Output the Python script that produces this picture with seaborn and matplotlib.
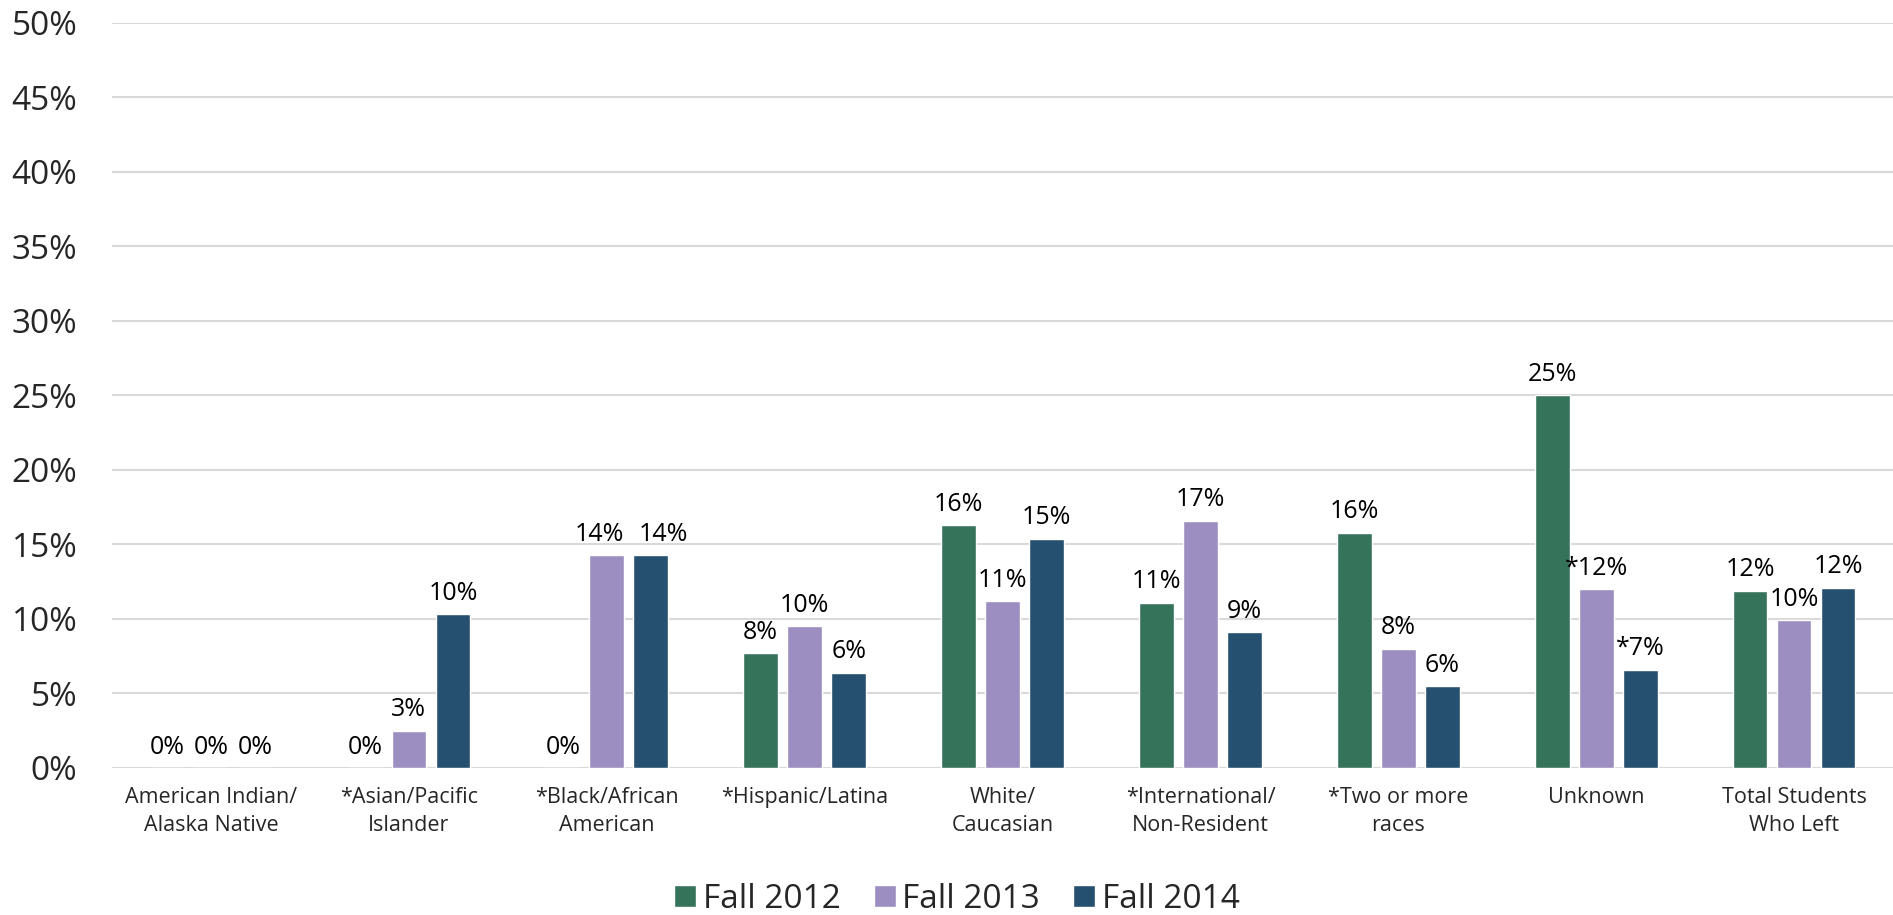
import pandas as pd
import matplotlib
matplotlib.use("Agg")
import matplotlib.pyplot as plt
import seaborn as sns

# ---------- data ----------
categories = ["American Indian/\nAlaska Native", "*Asian/Pacific\nIslander",
              "*Black/African\nAmerican", "*Hispanic/Latina", "White/\nCaucasian",
              "*International/\nNon-Resident", "*Two or more\nraces", "Unknown",
              "Total Students\nWho Left"]
terms = ["Fall 2012", "Fall 2013", "Fall 2014"]

fall_2012 = [0, 0, 0, 7.7, 16.3, 11.1, 15.8, 25.0, 11.9]
fall_2013 = [0, 2.5, 14.3, 9.5, 11.2, 16.6, 8.0, 12.0, 9.9]
fall_2014 = [0, 10.3, 14.3, 6.4, 15.4, 9.1, 5.5, 6.6, 12.1]

labels_2012 = ["0%", "0%", "0%", "8%", "16%", "11%", "16%", "25%", "12%"]
labels_2013 = ["0%", "3%", "14%", "10%", "11%", "17%", "8%", "*12%", "10%"]
labels_2014 = ["0%", "10%", "14%", "6%", "15%", "9%", "6%", "*7%", "12%"]

yticks = [0, 5, 10, 15, 20, 25, 30, 35, 40, 45, 50]
colors = ["#35735B", "#9D8EC2", "#26506F"]

df = pd.DataFrame({
    "group": categories * 3,
    "term": [t for t in terms for _ in categories],
    "rate": fall_2012 + fall_2013 + fall_2014,
})

# ---------- plot ----------
sns.set_style("white")
plt.rcParams["font.family"] = ["Open Sans", "DejaVu Sans"]

fig = plt.figure(figsize=(18.93, 9.15), dpi=100)
ax = fig.add_axes([0.0592, 0.1607, 0.9408, 0.8142])

sns.barplot(data=df, x="group", y="rate", hue="term", palette=colors,
            width=0.667, gap=0.21, saturation=1, ax=ax, zorder=3)

all_texts = []
for cont, labs in zip(ax.containers, [labels_2012, labels_2013, labels_2014]):
    all_texts.append(ax.bar_label(cont, labels=labs, padding=6, fontsize=18, color="black"))

# nudge the two touching labels apart (like the original)
all_texts[1][2].xyann = (-5, all_texts[1][2].xyann[1])
all_texts[2][2].xyann = (9, all_texts[2][2].xyann[1])

ax.set_ylim(0, 50)
ax.set_xlim(-0.5, len(categories) - 0.5)
ax.set_yticks(yticks)
ax.set_yticklabels([f"{v}%" for v in yticks])
ax.yaxis.grid(True, color="#d9d9d9", linewidth=1.5, zorder=0)
ax.set_axisbelow(True)
ax.set_xlabel("")
ax.set_ylabel("")
sns.despine(ax=ax, left=True, bottom=True)
ax.tick_params(axis="y", length=0, pad=25, labelsize=24)
ax.tick_params(axis="x", length=0, pad=14, labelsize=15.5)
for t in ax.get_xticklabels():
    t.set_linespacing(1.4)
    t.set_verticalalignment("top")

handles, leg_labels = ax.get_legend_handles_labels()
ax.get_legend().remove()
fig.legend(handles, leg_labels, loc="center", bbox_to_anchor=(957 / 1893, 1 - 899 / 915),
           ncol=3, frameon=False, fontsize=24, handlelength=0.65, handleheight=0.65,
           handletextpad=0.2, columnspacing=1.0)

fig.savefig("out.png", dpi=100)
